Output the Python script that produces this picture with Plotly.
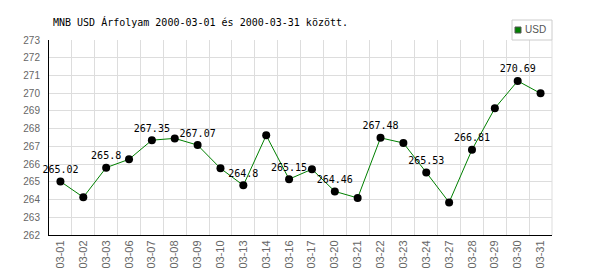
import plotly.graph_objects as go

dates = ['03-01', '03-02', '03-03', '03-06', '03-07', '03-08', '03-09', '03-10',
         '03-13', '03-14', '03-16', '03-17', '03-20', '03-21', '03-22', '03-23',
         '03-24', '03-27', '03-28', '03-29', '03-30', '03-31']
values = [265.02, 264.13, 265.8, 266.27, 267.35, 267.45, 267.07, 265.76,
          264.8, 267.62, 265.15, 265.71, 264.46, 264.09, 267.48, 267.19,
          265.53, 263.84, 266.81, 269.15, 270.69, 269.99]
y_ticks = list(range(262, 274))
series_name = 'USD'
title_text = 'MNB USD Árfolyam 2000-03-01 és 2000-03-31 között.'

labels = [str(v) if i % 2 == 0 else '' for i, v in enumerate(values)]

fig = go.Figure()
fig.add_trace(go.Scatter(
    x=dates, y=values, mode='lines+markers+text',
    text=labels, textposition='top center',
    textfont=dict(family='DejaVu Sans Mono', size=10, color='black'),
    line=dict(color='#008000', width=1),
    marker=dict(color='black', size=8),
    showlegend=False, cliponaxis=False,
))

fig.update_layout(
    width=600, height=270,
    margin=dict(l=49, r=48, t=40, b=35),
    paper_bgcolor='white', plot_bgcolor='white',
    title=dict(text=title_text, x=53 / 600, xanchor='left', y=1 - 22 / 270,
               yanchor='middle',
               font=dict(family='DejaVu Sans Mono', size=10, color='black')),
    xaxis=dict(type='category', range=[-0.5, len(dates) - 0.5],
               tickson='boundaries', showgrid=True, gridcolor='#dddddd',
               showline=True, linecolor='black', linewidth=1,
               ticks='', tickangle=-90, automargin=False,
               tickfont=dict(family='Liberation Sans', size=11, color='#666666')),
    yaxis=dict(range=[262, 273], tickvals=y_ticks, showgrid=True,
               gridcolor='#dddddd', zeroline=False,
               showline=True, linecolor='black', linewidth=1,
               ticks='', ticklabelstandoff=6, automargin=False,
               tickfont=dict(family='Liberation Sans', size=10, color='#666666')),
    shapes=[
        dict(type='line', xref='paper', yref='paper', x0=1, x1=1, y0=0, y1=1,
             line=dict(color='#dddddd', width=1)),
        dict(type='rect', xref='paper', yref='paper',
             x0=(512 - 49) / 503, x1=1, y0=1, y1=1 + 20 / 195,
             line=dict(color='#cccccc', width=1), fillcolor='white'),
        dict(type='rect', xref='paper', yref='paper',
             x0=(515 - 49) / 503, x1=(521 - 49) / 503,
             y0=1 + 7 / 195, y1=1 + 13 / 195,
             line=dict(color='#555555', width=1), fillcolor='#008000'),
    ],
    annotations=[
        dict(text=series_name, xref='paper', yref='paper',
             x=(523 - 49) / 503, y=1 + 10 / 195, xanchor='left', yanchor='middle',
             showarrow=False,
             font=dict(family='Liberation Sans', size=10, color='#555555')),
    ],
)

fig.write_html('out.html')
